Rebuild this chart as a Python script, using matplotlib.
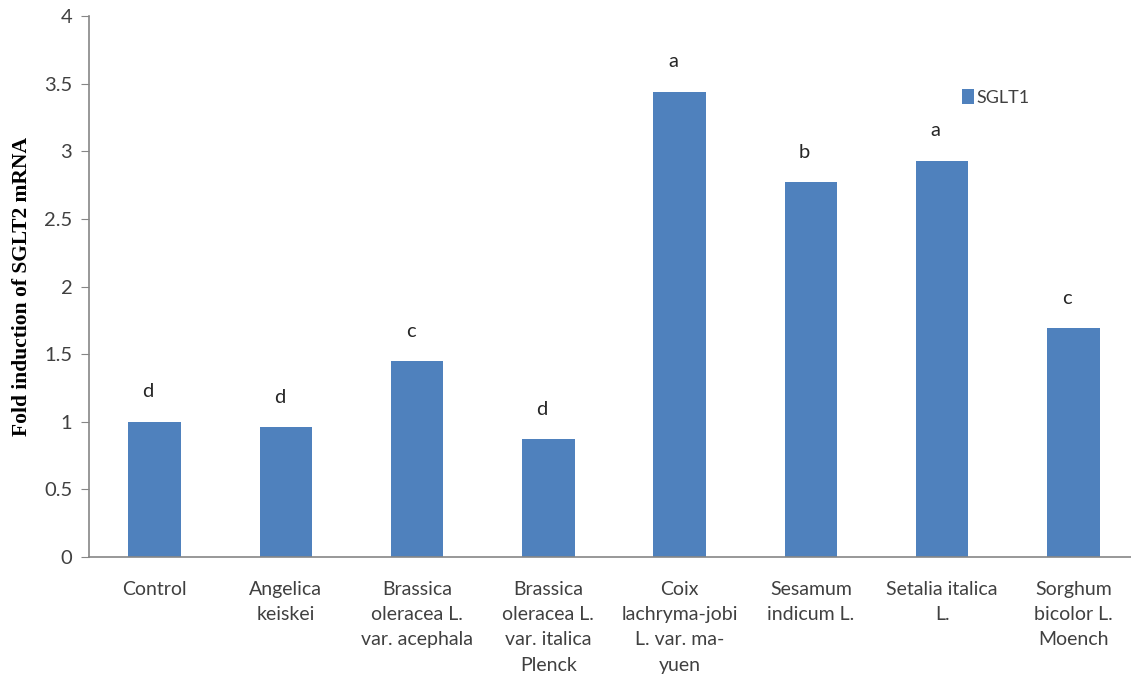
import matplotlib.pyplot as plt
import numpy as np

categories = [
    "Control",
    "Angelica\nkeiskei",
    "Brassica\noleracea L.\nvar. acephala",
    "Brassica\noleracea L.\nvar. italica\nPlenck",
    "Coix\nlachryma-jobi\nL. var. ma-\nyuen",
    "Sesamum\nindicum L.",
    "Setalia italica\nL.",
    "Sorghum\nbicolor L.\nMoench",
]
sglt1_fold = [1.00, 0.96, 1.45, 0.87, 3.44, 2.77, 2.93, 1.69]
group_letters = ["d", "d", "c", "d", "a", "b", "a", "c"]
y_ticks = [0, 0.5, 1, 1.5, 2, 2.5, 3, 3.5, 4]

BAR_COLOR = "#4f81bd"
AXIS_COLOR = "#868686"
TEXT_COLOR = "#404040"

fig = plt.figure(figsize=(11.31, 6.82), dpi=100)
# axes runs slightly past the right edge, like the original export
ax = fig.add_axes([89 / 1131, 1 - 557 / 682, 1050 / 1131, 541 / 682])

x = np.arange(len(categories))
bars = ax.bar(x, sglt1_fold, width=0.40, color=BAR_COLOR, label="SGLT1", zorder=2)

for xi, val, letter in zip(x, sglt1_fold, group_letters):
    ax.text(xi - 0.05, val + 0.22, letter, ha="center", va="center",
            fontsize=14.5, family="Lato", color="#262626")

ax.set_xlim(-0.5, len(categories) - 0.5)
ax.set_ylim(0, 4)
ax.set_yticks(y_ticks)
ax.set_yticklabels([f"{t:g}" for t in y_ticks])
ax.set_xticks(x)
ax.set_xticklabels(categories, linespacing=1.6)

for side in ("top", "right"):
    ax.spines[side].set_visible(False)
for side in ("left", "bottom"):
    ax.spines[side].set_color(AXIS_COLOR)
    ax.spines[side].set_linewidth(1.2)

ax.tick_params(axis="y", length=6, color=AXIS_COLOR, labelsize=14.5,
               labelcolor=TEXT_COLOR, pad=6)
ax.tick_params(axis="x", length=0, labelsize=14, labelcolor=TEXT_COLOR, pad=17)
for label in ax.get_xticklabels() + ax.get_yticklabels():
    label.set_family("Lato")

ax.set_ylabel("Fold induction of SGLT2 mRNA", family="Liberation Serif",
              fontweight="bold", fontsize=15.5, color="black", labelpad=9)

ax.legend(loc="upper left", bbox_to_anchor=(6.03, 3.58), bbox_transform=ax.transData,
          frameon=False, handlelength=0.65, handleheight=0.9, handletextpad=0.15,
          prop={"family": "Lato", "size": 13}, labelcolor=TEXT_COLOR)

fig.savefig("out.png", dpi=100)
